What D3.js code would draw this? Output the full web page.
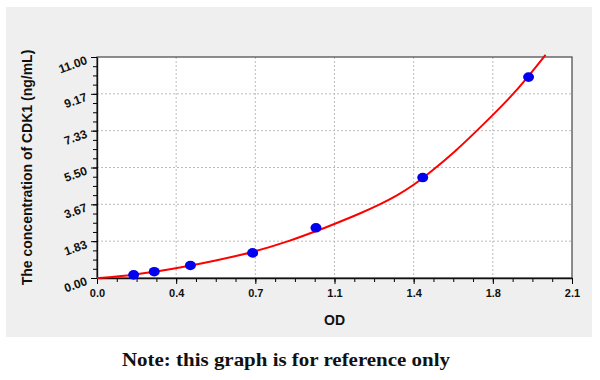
<!doctype html>
<html lang="en">
<head>
  <meta charset="UTF-8">
  <title>CDK1 standard curve</title>
  <script src="https://cdn.jsdelivr.net/npm/d3@7"></script>
  <style>
    body { margin: 0; background: #fff; }
    .tick text { font-family: "Liberation Sans", Arial, sans-serif; font-weight: bold; font-size: 11px; fill: #111; }
    .yax .tick text { font-size: 12px; }
  </style>
</head>
<body>
<svg width="600" height="380" id="chart"></svg>
<script>
  // standard points
  var pointOD = [0.162, 0.253, 0.413, 0.688, 0.968, 1.440, 1.908];
  var pointConc = [0.156, 0.3125, 0.625, 1.25, 2.5, 5, 10];

  // fitted curve, sampled along the red line
  var curveOD = [0, 0.06, 0.16, 0.26, 0.37, 0.53, 0.69, 0.855, 0.965, 1.046, 1.164, 1.252, 1.326, 1.40, 1.473, 1.577, 1.709, 1.827, 1.905, 1.983];
  var curveConc = [0, 0.035, 0.16, 0.31, 0.52, 0.88, 1.28, 1.85, 2.32, 2.67, 3.21, 3.67, 4.10, 4.62, 5.26, 6.22, 7.65, 8.98, 10.0, 11.1];

  var xTicks = [0, 0.35, 0.7, 1.05, 1.4, 1.75, 2.1];
  var xTickLabels = ['0.0', '0.4', '0.7', '1.1', '1.4', '1.8', '2.1'];
  var yTicks = [0, 11 / 6, 22 / 6, 33 / 6, 44 / 6, 55 / 6, 11];
  var yTickLabels = ['0.00', '1.83', '3.67', '5.50', '7.33', '9.17', '11.00'];

  var svg = d3.select('#chart'),
    margin = {top: 57, right: 28, bottom: 102, left: 97},
    width = +svg.attr('width') - margin.left - margin.right,
    height = +svg.attr('height') - margin.top - margin.bottom;

  var x = d3.scaleLinear().domain([0, 2.1]).range([0, width]),
    y = d3.scaleLinear().domain([0, 11]).range([height, 0]);

  // grey panel
  svg.append('rect')
    .attr('x', 6).attr('y', 7).attr('width', 586).attr('height', 330)
    .attr('fill', '#efefef');

  var g = svg.append('g').attr('transform', 'translate(' + margin.left + ',' + margin.top + ')');

  g.append('rect')
    .attr('width', width).attr('height', height)
    .attr('fill', '#fff');

  // dotted grid
  g.append('g').selectAll('line').data(xTicks.slice(1, -1)).enter().append('line')
    .attr('x1', function (d) { return x(d); })
    .attr('x2', function (d) { return x(d); })
    .attr('y1', 0).attr('y2', height)
    .attr('stroke', '#bdbdbd').attr('stroke-dasharray', '2,2');
  g.append('g').selectAll('line').data(yTicks.slice(1, -1)).enter().append('line')
    .attr('y1', function (d) { return y(d); })
    .attr('y2', function (d) { return y(d); })
    .attr('x1', 0).attr('x2', width)
    .attr('stroke', '#bdbdbd').attr('stroke-dasharray', '2,2');

  // frame
  g.append('rect')
    .attr('width', width).attr('height', height)
    .attr('fill', 'none').attr('stroke', '#444').attr('stroke-width', 1.2);

  // minor ticks
  var xMinor = d3.range(0, 25).map(function (i) { return i * 0.0875; });
  var yMinor = d3.range(0, 25).map(function (i) { return i * 11 / 24; });
  g.append('g')
    .attr('transform', 'translate(0,' + height + ')')
    .call(d3.axisBottom(x).tickValues(xMinor).tickSize(4).tickFormat(''))
    .call(function (a) { a.select('.domain').remove(); });
  g.append('g')
    .call(d3.axisLeft(y).tickValues(yMinor).tickSize(4).tickFormat(''))
    .call(function (a) { a.select('.domain').remove(); });

  // major ticks + labels
  var xAxis = g.append('g')
    .attr('transform', 'translate(0,' + height + ')')
    .call(d3.axisBottom(x).tickValues(xTicks).tickSize(6).tickSizeOuter(0).tickPadding(5)
      .tickFormat(function (d, i) { return xTickLabels[i]; }));
  xAxis.select('.domain').attr('stroke', '#111').attr('stroke-width', 1.4);

  var yAxis = g.append('g').attr('class', 'yax')
    .call(d3.axisLeft(y).tickValues(yTicks).tickSize(6).tickSizeOuter(0)
      .tickFormat(function (d, i) { return yTickLabels[i]; }));
  yAxis.select('.domain').attr('stroke', '#111').attr('stroke-width', 1.4);
  yAxis.selectAll('.tick text')
    .attr('x', null).attr('dy', null)
    .attr('transform', 'translate(-9,6) rotate(-20)');

  // fitted curve
  var line = d3.line()
    .x(function (d) { return x(d[0]); })
    .y(function (d) { return y(d[1]); })
    .curve(d3.curveBasis);
  g.append('path')
    .datum(curveOD.map(function (d, i) { return [d, curveConc[i]]; }))
    .attr('d', line)
    .attr('fill', 'none')
    .attr('stroke', '#ff0000')
    .attr('stroke-width', 2);

  // standards
  g.selectAll('.dot').data(pointOD).enter().append('ellipse').attr('class', 'dot')
    .attr('cx', function (d) { return x(d); })
    .attr('cy', function (d, i) { return y(pointConc[i]); })
    .attr('rx', 5.5).attr('ry', 4.8)
    .attr('fill', '#0000ee');

  // axis titles
  svg.append('text')
    .attr('transform', 'translate(32,' + (margin.top + height / 2) + ') rotate(-90)')
    .attr('text-anchor', 'middle')
    .attr('font-family', '"Liberation Sans", Arial, sans-serif')
    .attr('font-weight', 'bold')
    .attr('font-size', 14)
    .attr('fill', '#111')
    .text('The concentration of CDK1 (ng/mL)');

  svg.append('text')
    .attr('x', margin.left + width / 2)
    .attr('y', 325)
    .attr('text-anchor', 'middle')
    .attr('font-family', '"Liberation Sans", Arial, sans-serif')
    .attr('font-weight', 'bold')
    .attr('font-size', 14)
    .attr('fill', '#111')
    .text('OD');

  svg.append('text')
    .attr('x', 122)
    .attr('y', 366)
    .attr('font-family', '"Liberation Serif", "DejaVu Serif", serif')
    .attr('font-weight', 'bold')
    .attr('font-size', 19)
    .attr('textLength', 328)
    .attr('lengthAdjust', 'spacingAndGlyphs')
    .attr('fill', '#111')
    .text('Note: this graph is for reference only');
</script>
</body>
</html>
